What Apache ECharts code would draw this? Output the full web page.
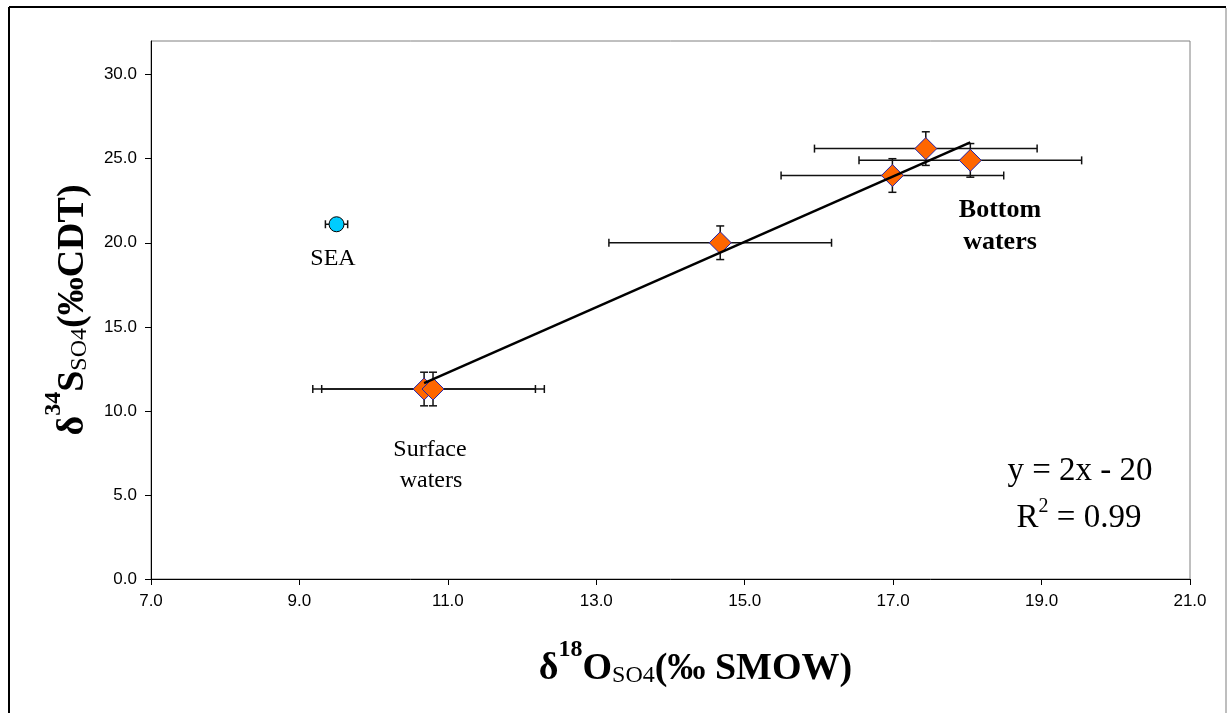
<!DOCTYPE html>
<html>
<head>
<meta charset="utf-8">
<script src="https://cdn.jsdelivr.net/npm/echarts@6/dist/echarts.min.js"></script>
<style>
html,body{margin:0;padding:0;background:#fff;}
#chart{width:1228px;height:713px;}
</style>
</head>
<body>
<div id="chart"></div>
<script>
// ---- data ----
const samplesX   = [10.68, 10.80, 14.67, 16.99, 17.44, 18.04];
const samplesY   = [11.3, 11.3, 20.0, 24.0, 25.6, 24.9];
const samplesXErr = [1.5, 1.5, 1.5, 1.5, 1.5, 1.5];
const samplesYErr = [1.0, 1.0, 1.0, 1.0, 1.0, 1.0];
const seaX = [9.5];
const seaY = [21.1];
const seaXErr = [0.15];
const seaYErr = [0];
const trendX = [10.68, 18.04];
const trendY = [11.65, 25.97];
const xTickValues = [7, 9, 11, 13, 15, 17, 19, 21];
const yTickValues = [0, 5, 10, 15, 20, 25, 30];
const equationText = 'y = 2x - 20';
const r2Text = '0.99';

const serif = "'Liberation Serif', 'DejaVu Serif', serif";
const sans = "'Liberation Sans', Arial, sans-serif";

const samplePts = samplesX.map((x, i) => [x, samplesY[i]]);
const sampleErr = samplesX.map((x, i) => [x, samplesY[i], samplesXErr[i], samplesYErr[i]]);
const seaPts = seaX.map((x, i) => [x, seaY[i]]);
const seaErr = seaX.map((x, i) => [x, seaY[i], seaXErr[i], seaYErr[i]]);
const trendPts = trendX.map((x, i) => [x, trendY[i]]);

function errRender(params, api) {
  const x = api.value(0), y = api.value(1), ex = api.value(2), ey = api.value(3);
  const cap = 4;
  const style = { stroke: '#111', lineWidth: 1.5 };
  const children = [];
  if (ex > 0) {
    const l = api.coord([x - ex, y]), r = api.coord([x + ex, y]);
    children.push({ type: 'line', shape: { x1: l[0], y1: l[1], x2: r[0], y2: r[1] }, style });
    children.push({ type: 'line', shape: { x1: l[0], y1: l[1] - cap, x2: l[0], y2: l[1] + cap }, style });
    children.push({ type: 'line', shape: { x1: r[0], y1: r[1] - cap, x2: r[0], y2: r[1] + cap }, style });
  }
  if (ey > 0) {
    const t = api.coord([x, y + ey]), b = api.coord([x, y - ey]);
    children.push({ type: 'line', shape: { x1: t[0], y1: t[1], x2: b[0], y2: b[1] }, style });
    children.push({ type: 'line', shape: { x1: t[0] - cap, y1: t[1], x2: t[0] + cap, y2: t[1] }, style });
    children.push({ type: 'line', shape: { x1: b[0] - cap, y1: b[1], x2: b[0] + cap, y2: b[1] }, style });
  }
  return { type: 'group', children };
}

const nameRich = {
  m:   { fontFamily: serif, fontSize: 38, fontWeight: 'bold', color: '#000', lineHeight: 50, verticalAlign: 'bottom' },
  sup: { fontFamily: serif, fontSize: 24, fontWeight: 'bold', color: '#000', lineHeight: 21, verticalAlign: 'top' },
  sub: { fontFamily: serif, fontSize: 24, fontWeight: 'normal', color: '#000', lineHeight: 33, verticalAlign: 'bottom' }
};

const chart = echarts.init(document.getElementById('chart'), null, { renderer: 'canvas' });
chart.setOption({
  animation: false,
  backgroundColor: '#fff',
  grid: { left: 151, right: 38, top: 41, bottom: 134, show: true, borderColor: '#808080', borderWidth: 1, backgroundColor: 'transparent' },
  xAxis: {
    type: 'value', min: 7, max: 21, interval: 2,
    name: '{m|δ}{sup|18}{m|O}{sub|SO4}{m|(‰ SMOW)}',
    nameLocation: 'middle', nameGap: 59,
    nameTextStyle: { rich: nameRich, padding: [0, 0, 0, 50] },
    axisLine: { show: true, onZero: false, lineStyle: { color: '#000', width: 1 } },
    axisTick: { show: true, inside: false, length: 6, lineStyle: { color: '#000' } },
    axisLabel: { margin: 14, fontFamily: sans, fontSize: 17, color: '#000', formatter: v => v.toFixed(1),
                 customValues: xTickValues },
    splitLine: { show: false }
  },
  yAxis: {
    type: 'value', min: 0, max: 32, interval: 5,
    name: '{m|δ}{sup|34}{m|S}{sub|SO4}{m|(‰CDT)}',
    nameLocation: 'middle', nameGap: 59,
    nameTextStyle: { rich: nameRich },
    axisLine: { show: true, onZero: false, lineStyle: { color: '#000', width: 1 } },
    axisTick: { show: true, inside: false, length: 6, lineStyle: { color: '#000' }, customValues: yTickValues },
    axisLabel: { margin: 14, fontFamily: sans, fontSize: 17, color: '#000', customValues: yTickValues,
                 formatter: v => (yTickValues.indexOf(v) >= 0 ? v.toFixed(1) : '') },
    splitLine: { show: false }
  },
  series: [
    { type: 'custom', renderItem: errRender, data: sampleErr, z: 1, silent: true },
    { type: 'custom', renderItem: errRender, data: seaErr, z: 1, silent: true },
    { type: 'scatter', data: samplePts, symbol: 'diamond', symbolSize: 22, z: 2,
      itemStyle: { color: '#FF6600', borderColor: '#2222AA', borderWidth: 1, opacity: 1 } },
    { type: 'scatter', data: seaPts, symbol: 'circle', symbolSize: 15, z: 2,
      itemStyle: { color: '#00CCFF', borderColor: '#000', borderWidth: 1, opacity: 1 } },
    { type: 'line', data: trendPts, symbol: 'none', z: 3, silent: true,
      lineStyle: { color: '#000', width: 2.5 } }
  ],
  graphic: [
    { type: 'line', shape: { x1: 9, y1: 7, x2: 1226, y2: 7 }, style: { stroke: '#000', lineWidth: 2 } },
    { type: 'line', shape: { x1: 9, y1: 7, x2: 9, y2: 713 }, style: { stroke: '#000', lineWidth: 2 } },
    { type: 'line', shape: { x1: 1226, y1: 8, x2: 1226, y2: 713 }, style: { stroke: '#A8A8A8', lineWidth: 1.5 } },
    { type: 'text', x: 333, y: 259, style: { text: 'SEA', font: '24px ' + serif, fill: '#000', textAlign: 'center', textVerticalAlign: 'middle' } },
    { type: 'text', x: 430, y: 450, style: { text: 'Surface', font: '24px ' + serif, fill: '#000', textAlign: 'center', textVerticalAlign: 'middle' } },
    { type: 'text', x: 431, y: 481, style: { text: 'waters', font: '24px ' + serif, fill: '#000', textAlign: 'center', textVerticalAlign: 'middle' } },
    { type: 'text', x: 1000, y: 210, style: { text: 'Bottom', font: 'bold 26px ' + serif, fill: '#000', textAlign: 'center', textVerticalAlign: 'middle' } },
    { type: 'text', x: 1000, y: 242, style: { text: 'waters', font: 'bold 26px ' + serif, fill: '#000', textAlign: 'center', textVerticalAlign: 'middle' } },
    { type: 'text', x: 1080, y: 471, style: { text: equationText, font: '33px ' + serif, fill: '#000', textAlign: 'center', textVerticalAlign: 'middle' } },
    { type: 'text', x: 1079, y: 516, style: {
        text: '{a|R}{s|2}{a| = ' + r2Text + '}', textAlign: 'center', textVerticalAlign: 'middle',
        rich: {
          a: { fontFamily: serif, fontSize: 33, color: '#000', lineHeight: 38, verticalAlign: 'bottom' },
          s: { fontFamily: serif, fontSize: 20, color: '#000', lineHeight: 18, verticalAlign: 'top' }
        } } }
  ]
});
</script>
</body>
</html>
